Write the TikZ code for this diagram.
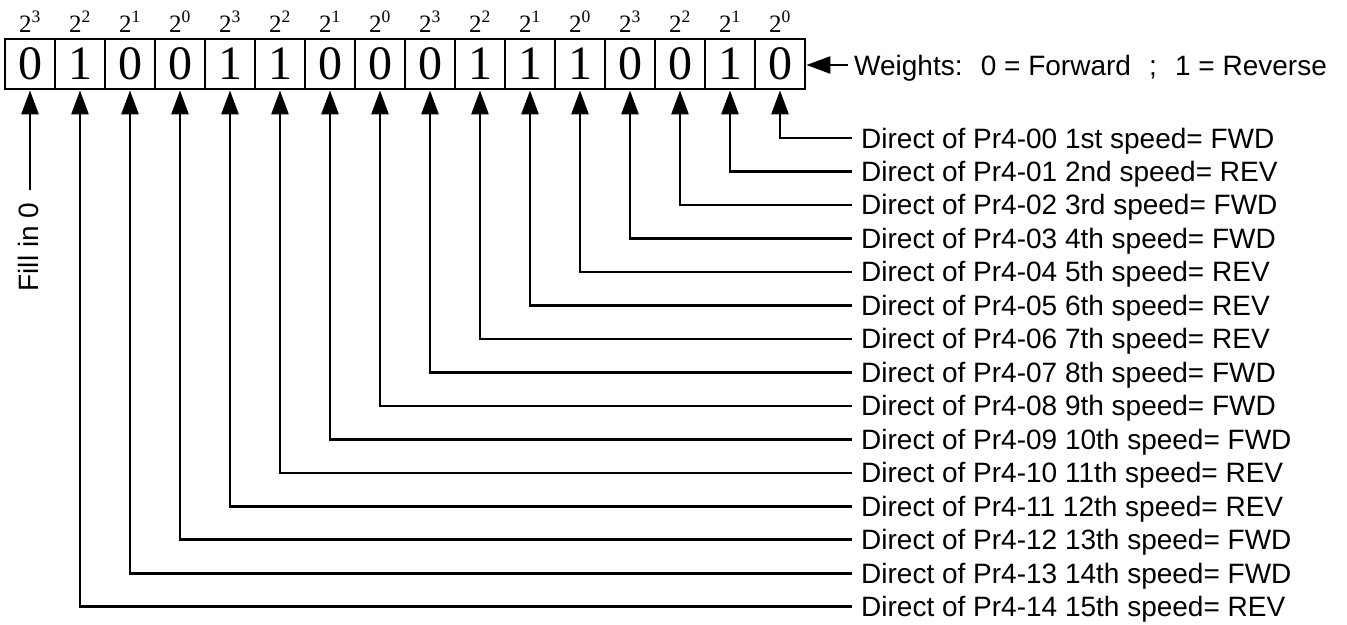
\documentclass[tikz,border=0pt]{standalone}
\usepackage{fontspec}
\setmainfont{Liberation Serif}
\newfontfamily\arialf{Liberation Sans}
\usetikzlibrary{arrows.meta}
\begin{document}
\begin{tikzpicture}[x=1pt,y=-1pt,
  cell/.style={draw, line width=2.8pt, minimum width=50pt, minimum height=50pt,
    inner sep=0pt, font=\fontsize{48}{48}\selectfont},
  weight/.style={inner sep=0pt, anchor=base, font=\fontsize{25}{25}\selectfont},
  lbl/.style={anchor=west, inner xsep=9pt, inner ysep=0pt, text height=20pt,
    text depth=0pt, font=\arialf\fontsize{28}{28}\selectfont},
  conn/.style={line width=2.6pt, -{Triangle[length=24pt,width=17pt]}}]
\useasboundingbox (0,0) rectangle (1347,624);
% cells
\foreach \b [count=\i from 0] in {0,1,0,0,1,1,0,0,0,1,1,1,0,0,1,0}{
  \node[cell] (c\i) at ({30+50*\i},64) {\b};
  \pgfmathtruncatemacro{\e}{3-mod(\i,4)}
  \node[weight] (w\i) at ({30+50*\i},32) {2\textsuperscript{\e}};
}
% labels and connectors
\foreach \k/\o/\d in {0/1st/FWD,1/2nd/REV,2/3rd/FWD,3/4th/FWD,4/5th/REV,5/6th/REV,
  6/7th/REV,7/8th/FWD,8/9th/FWD,9/10th/FWD,10/11th/REV,11/12th/REV,12/13th/FWD,
  13/14th/FWD,14/15th/REV}{
  \pgfmathtruncatemacro{\ci}{15-\k}
  \node[lbl] (L\k) at (852,{138+33.48*\k}) {Direct of Pr4-\ifnum\k<10 0\fi\k\ \o\ speed= \d};
  \draw[conn] (L\k.west) -| (c\ci.south);
}
% fill in 0
\node[lbl, anchor=center, inner xsep=0pt, rotate=90] (fill) at (28,247) {Fill in 0};
\coordinate (f0) at (30,190);
\draw[conn] (f0) -- (c0.south);
% weights legend
\node[lbl, inner xsep=6pt] (wl) at (848,65) {Weights:\hspace{0.65em}0 = Forward\hspace{0.65em};\hspace{0.65em}1 = Reverse};
\draw[conn] (wl.west) -- (wl.west -| c15.east);
\end{tikzpicture}
\end{document}
